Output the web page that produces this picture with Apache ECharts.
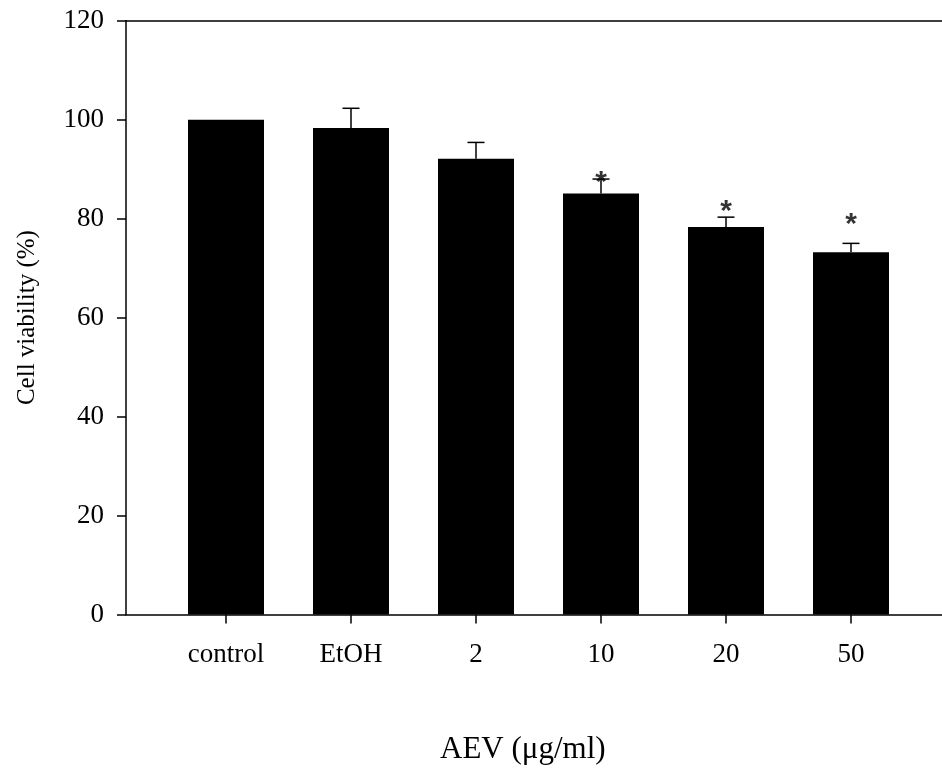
<!DOCTYPE html>
<html>
<head>
    <meta charset="utf-8">
    <title>Cell viability</title>
    <script src="https://cdn.jsdelivr.net/npm/echarts@6/dist/echarts.min.js"></script>
    <style>
        html, body { margin: 0; padding: 0; background: #fff; }
    </style>
</head>
<body>
    <div id="main" style="width: 942px;height:778px;"></div>
    <script type="text/javascript">
        var categories = ['control', 'EtOH', '2', '10', '20', '50'];
        var viability = [100, 98.3, 92.1, 85.1, 78.3, 73.2];
        var sem = [0, 4.0, 3.3, 2.9, 2.0, 1.8];
        // where the significance stars sit (null = none)
        var starAt = [null, null, null, 88.0, 82.3, 79.5];
        var yTicks = [0, 20, 40, 60, 80, 100, 120];

        var serif = 'Liberation Serif';
        var myChart = echarts.init(document.getElementById('main'));

        var errData = categories.map(function (c, i) {
            return [i, viability[i], sem[i]];
        });

        var option = {
            animation: false,
            title: {
                text: 'AEV (μg/ml)',
                left: 440,
                top: 734,
                padding: 0,
                textStyle: { fontFamily: serif, fontSize: 31, fontWeight: 'normal', color: '#000' }
            },
            grid: [
                // frame: axis lines + y scale
                { left: 126, right: 0, top: 20.7, bottom: 163.5 },
                // bars
                { left: 163.5, right: 28.5, top: 20.7, bottom: 163.5 }
            ],
            xAxis: [{
                type: 'value', gridIndex: 0, min: 0, max: 1,
                axisLine: { lineStyle: { color: '#000', width: 1.5 } },
                axisTick: { show: false }, axisLabel: { show: false }, splitLine: { show: false }
            }, {
                type: 'value', gridIndex: 0, position: 'top', min: 0, max: 1,
                axisLine: { lineStyle: { color: '#000', width: 1.5 } },
                axisTick: { show: false }, axisLabel: { show: false }, splitLine: { show: false }
            }, {
                type: 'category', gridIndex: 1, data: categories,
                axisLine: { show: false },
                axisTick: { show: true, alignWithLabel: true, length: 9, lineStyle: { color: '#000', width: 1.5 } },
                axisLabel: { color: '#000', fontFamily: serif, fontSize: 27, margin: 27 }
            }],
            yAxis: [{
                type: 'value', gridIndex: 0, min: 0, max: 120, interval: 20,
                name: 'Cell viability (%)', nameLocation: 'middle', nameGap: 86, nameRotate: 90,
                nameTextStyle: { color: '#000', fontFamily: serif, fontSize: 25 },
                axisLine: { show: true, lineStyle: { color: '#000', width: 1.5 } },
                axisTick: { show: true, length: 9, lineStyle: { color: '#000', width: 1.5 } },
                axisLabel: {
                    color: '#000', fontFamily: serif, fontSize: 27, margin: 22,
                    formatter: function (v) { return yTicks.indexOf(v) >= 0 ? v : ''; }
                },
                splitLine: { show: false }
            }, {
                type: 'value', gridIndex: 1, min: 0, max: 120, show: false
            }],
            series: [{
                type: 'bar',
                xAxisIndex: 2, yAxisIndex: 1,
                data: viability,
                barWidth: 76,
                itemStyle: { color: '#000' }
            }, {
                type: 'custom',
                xAxisIndex: 2, yAxisIndex: 1,
                z: 5,
                data: errData,
                renderItem: function (params, api) {
                    var e = api.value(2);
                    if (!e) return;
                    var p0 = api.coord([api.value(0), api.value(1)]);
                    var p1 = api.coord([api.value(0), api.value(1) + e]);
                    var half = 8.5;
                    var st = { stroke: '#000', lineWidth: 1.5 };
                    return {
                        type: 'group',
                        children: [
                            { type: 'line', shape: { x1: p0[0], y1: p0[1], x2: p1[0], y2: p1[1] }, style: st },
                            { type: 'line', shape: { x1: p1[0] - half, y1: p1[1], x2: p1[0] + half, y2: p1[1] }, style: st }
                        ]
                    };
                }
            }, {
                type: 'scatter',
                xAxisIndex: 2, yAxisIndex: 1,
                z: 6,
                symbolSize: 0,
                data: starAt,
                label: {
                    show: true,
                    position: 'inside',
                    formatter: '*',
                    offset: [0, 4],
                    color: '#000',
                    fontFamily: 'Liberation Sans',
                    fontWeight: 'bold',
                    fontSize: 30
                }
            }]
        };

        myChart.setOption(option);
    </script>
</body>
</html>
